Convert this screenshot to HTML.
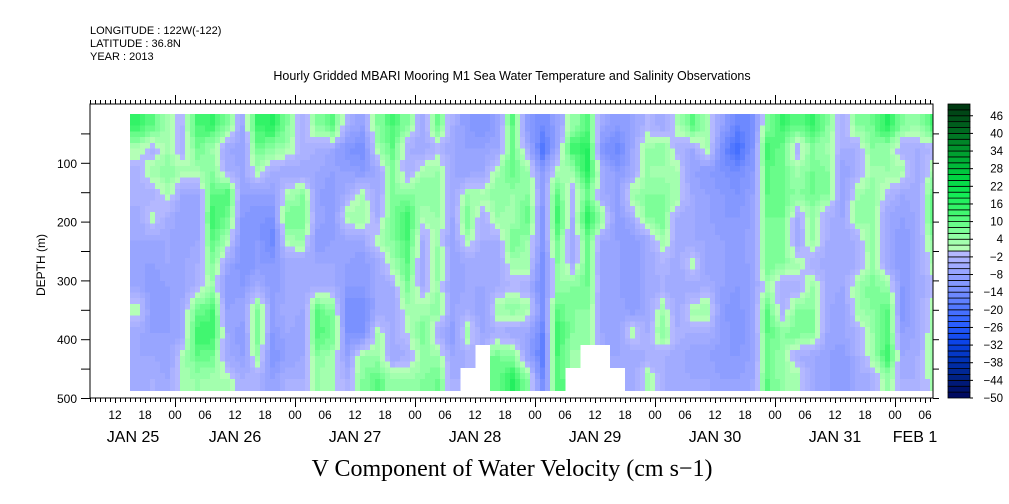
<!DOCTYPE html>
<html><head><meta charset="utf-8"><style>
html,body{margin:0;padding:0;background:#fff;}
svg{display:block;font-family:"Liberation Sans",sans-serif;}
</style></head><body>
<svg id="chart" width="1009" height="504" viewBox="0 0 1009 504" xmlns="http://www.w3.org/2000/svg">
<g font-size="11" fill="#000">
<text x="90" y="34">LONGITUDE : 122W(-122)</text>
<text x="90" y="47">LATITUDE : 36.8N</text>
<text x="90" y="60">YEAR : 2013</text>
</g>
<text x="512" y="80" font-size="12.5" text-anchor="middle">Hourly Gridded MBARI Mooring M1 Sea Water Temperature and Salinity Observations</text>
<g id="cells" shape-rendering="crispEdges"></g>
<g id="axes"></g>
<g id="cbar"></g>
<text x="512" y="476" font-family="Liberation Serif, serif" font-size="24" text-anchor="middle">V Component of Water Velocity (cm s−1)</text>
<text transform="translate(45,265) rotate(-90)" font-size="12" text-anchor="middle">DEPTH (m)</text>
</svg>
<script>
// time in hours since Jan 25 00:00 for each column start (3-hourly)
const colStartHours = Array.from({length:54},(_,i)=>15+3*i);
// depth row boundaries (m)
const depthEdges = [17,56.2,95.3,134.5,173.7,212.8,252,291.2,330.3,369.5,408.7,447.8,487];
// V velocity (cm/s), one array per column, rows top->bottom; null = missing
const values = [
[14,2,-3,-2,-6,-6,-8,-6,3,-6,-6,-5],
[10,-3,3,-4,2,-6,-8,-10,-10,-8,-6,-4],
[3,3,6,2,-4,-6,-6,-8,-10,-8,-8,-6],
[-2,-4,3,-6,-8,-8,-6,-8,-4,-6,2,3],
[12,8,3,-6,-8,-6,-4,-2,8,14,10,4],
[14,3,6,10,14,10,6,3,12,14,8,3],
[6,-6,-4,12,8,3,-6,-10,-8,-6,-6,2],
[-6,-8,-6,-8,-10,-12,-12,-10,-6,-10,-8,-4],
[14,8,2,-8,-12,-10,-10,-4,6,8,4,-4],
[16,6,-4,-8,-12,-16,-10,-10,-8,-10,-12,-8],
[6,3,-6,2,8,3,-6,-6,-4,-6,-8,-4],
[-4,-2,-6,6,8,4,-6,-6,-6,-8,-6,-4],
[6,-4,-6,-8,-6,-10,-6,-4,10,12,6,4],
[10,-6,-8,-10,-10,-8,-6,-4,6,8,3,2],
[-4,-12,-8,-4,3,-6,-8,-10,-14,-12,-8,-4],
[-8,-14,-10,2,4,-6,-10,-10,-14,-14,4,6],
[6,3,-6,-6,-4,2,-6,-6,-6,2,4,10],
[12,10,6,6,8,6,3,-4,-6,-4,-6,4],
[6,-4,-4,6,14,12,10,7,3,0,-4,4],
[-6,-6,3,6,2,-4,-6,-4,3,8,4,6],
[8,-2,4,6,4,3,6,3,6,-4,4,8],
[-4,-6,-6,-6,-6,-8,-8,-8,-6,-10,-6,-4],
[-10,-8,-8,4,8,3,-6,-6,-4,3,-4,null],
[-12,-8,-6,3,-4,-4,-6,-6,-8,-6,null,null],
[-8,-6,3,6,4,-4,-6,-4,3,-4,8,8],
[10,8,10,4,3,8,3,-2,6,-6,6,16],
[-10,-4,4,6,10,4,3,-4,3,-6,-8,6],
[-14,-20,-10,-8,-12,-10,-14,-14,-12,-16,-18,-14],
[-8,-6,3,10,14,8,6,4,10,14,12,10],
[4,14,3,-4,-4,-6,-4,6,6,6,3,null],
[10,16,16,8,16,8,8,8,6,4,null,null],
[-6,-12,-4,-6,4,-6,-8,-6,-8,-6,null,null],
[-10,-16,-10,-8,-10,-8,-8,-8,-6,-8,-6,null],
[-8,-6,-6,4,-4,-10,-10,-10,-10,3,-6,-6],
[-2,4,4,6,6,-6,-6,-6,-6,-4,-4,3],
[-6,6,3,6,8,3,-2,-4,3,6,-4,-4],
[2,-3,2,3,-5,-4,-6,-6,-6,-3,-5,-5],
[10,-6,-8,-6,-6,-6,3,-6,3,-4,-8,-6],
[3,3,-10,-8,-8,-6,-8,-4,3,-4,-8,-6],
[-8,-14,-12,-10,-10,-8,-8,-8,-10,-8,-10,-8],
[-16,-22,-14,-12,-10,-10,-8,-10,-12,-12,-10,-8],
[-14,-12,-10,-8,-8,-6,-8,-8,-6,-8,-8,-6],
[6,14,10,10,8,6,8,3,10,10,8,10],
[14,8,8,8,8,6,6,-4,-4,6,4,4],
[10,-4,3,6,-4,-6,3,-4,6,8,-4,3],
[14,6,8,8,4,4,-4,4,6,6,-6,-6],
[6,3,6,6,-4,-4,-6,-4,-6,-6,-8,-8],
[-4,-4,-8,-8,-6,-6,-6,-6,-8,-6,-10,-10],
[6,-4,-4,3,6,-4,-4,4,3,-4,-4,-6],
[8,6,3,6,4,6,4,8,6,4,3,-4],
[16,4,4,-2,-6,-6,-6,4,10,10,14,4],
[6,-4,3,-6,-8,-10,-10,-10,-12,-8,-6,-4],
[4,-4,-6,-4,-6,-6,-6,-6,-6,-6,-4,-4],
[12,-2,2,8,10,4,2,-2,2,3,3,2]
];
const hourTickLabels = ["12","18","00","06","12","18","00","06","12","18","00","06","12","18","00","06","12","18","00","06","12","18","00","06","12","18","00","06"];
const dayLabels = ["JAN 25","JAN 26","JAN 27","JAN 28","JAN 29","JAN 30","JAN 31","FEB 1"];
const depthTicks = [100,200,300,400,500];
const cbarTickLabels = [-50,-44,-38,-32,-26,-20,-14,-8,-2,4,10,16,22,28,34,40,46];

const NS="http://www.w3.org/2000/svg";
const X0=90,X1=933,Y0=104,Y1=398;
const T0=7;
const xOf=h=>X0+(h-T0)*5;
const yOf=d=>Y0+d*(Y1-Y0)/500;
function mk(tag,attrs,parent){const e=document.createElementNS(NS,tag);for(const k in attrs)e.setAttribute(k,attrs[k]);parent.appendChild(e);return e;}
function lerp(a,b,t){return a.map((v,i)=>Math.round(v+(b[i]-v)*t));}
function ramp(stops,t){if(t<=stops[0][0])return stops[0][1];for(let i=0;i<stops.length-1;i++){if(t<=stops[i+1][0]){const u=(t-stops[i][0])/(stops[i+1][0]-stops[i][0]);return lerp(stops[i][1],stops[i+1][1],u);}}return stops[stops.length-1][1];}
const posStops=[[1,[180,255,182]],[5,[145,255,165]],[9,[105,252,138]],[13,[65,246,112]],[19,[20,236,86]],[25,[0,212,66]],[33,[0,160,48]],[41,[0,105,32]],[49,[0,58,18]]];
const negStops=[[1,[180,184,255]],[7,[152,165,255]],[13,[122,145,255]],[19,[82,120,255]],[25,[42,94,255]],[31,[12,68,232]],[37,[0,50,182]],[43,[0,33,132]],[49,[0,10,96]]];
function colorFor(v){const b=Math.floor(v/2)*2+1; const c=b>0?ramp(posStops,Math.min(b,49)):ramp(negStops,Math.min(-b,49));return `rgb(${c[0]},${c[1]},${c[2]})`;}

// value lookup with bilinear smoothing between cell centres (rendering only)
const NC=values.length, NR=depthEdges.length-1;
function cellVal(i,r){i=Math.max(0,Math.min(NC-1,i));r=Math.max(0,Math.min(NR-1,r));return values[i][r];}
function sample(fi,fr,own){
  const i0=Math.floor(fi), r0=Math.floor(fr), ti=fi-i0, tr=fr-r0;
  const pts=[[i0,r0,(1-ti)*(1-tr)],[i0+1,r0,ti*(1-tr)],[i0,r0+1,(1-ti)*tr],[i0+1,r0+1,ti*tr]];
  let s=0,w=0;
  pts.forEach(p=>{const v=cellVal(p[0],p[1]); if(v!==null){s+=v*p[2];w+=p[2];}});
  return w>0?s/w:own;
}

const cg=document.getElementById('cells');
const SX=3, SY=4;
values.forEach((col,i)=>{
  const xa=xOf(colStartHours[i]), xw=15;
  col.forEach((v,r)=>{
    if(v===null) return;
    const ya=yOf(depthEdges[r]), yh=yOf(depthEdges[r+1])-ya;
    for(let a=0;a<SX;a++){
      for(let b=0;b<SY;b++){
        const fi=i+(a+0.5)/SX-0.5, fr=r+(b+0.5)/SY-0.5;
        const sv=sample(fi,fr,v);
        let x=xa+a*xw/SX, x2=x+xw/SX;
        if(x>=X1) continue; x2=Math.min(x2,X1);
        const y=ya+b*yh/SY;
        const el=mk('rect',{x:x.toFixed(2),y:y.toFixed(2),width:(x2-x+0.5).toFixed(2),height:(yh/SY+0.5).toFixed(2),fill:colorFor(sv)},cg);
        
        
      }
    }
  });
});

// axes
const ag=document.getElementById('axes');
const frame=mk('rect',{x:X0,y:Y0,width:X1-X0,height:Y1-Y0,fill:'none',stroke:'#000','stroke-width':1},ag);


for(let h=T0;h<=T0+168;h++){
  const x=xOf(h)+0.5; if(x>X1+0.5)break;
  const major=(h%24===0), mid=(h%6===0);
  const len=major?9:(mid?5:4);
  mk('line',{x1:x,y1:Y0,x2:x,y2:Y0-len,stroke:'#000'},ag);
  mk('line',{x1:x,y1:Y1,x2:x,y2:Y1+len,stroke:'#000'},ag);
}
hourTickLabels.forEach((lab,i)=>{
  const h=12+6*i;
  const t=mk('text',{x:xOf(h),y:419,'font-size':12,'text-anchor':'middle'},ag);
  t.textContent=lab;
  
  
});
dayLabels.forEach((lab,i)=>{
  let x=xOf(12+24*i); if(i===0)x=133; if(i===7)x=915;
  const t=mk('text',{x:x,y:442,'font-size':16,'text-anchor':'middle'},ag);
  t.textContent=lab;
  
  
});
for(let d=50;d<=500;d+=50){
  const y=yOf(d)+0.5;
  mk('line',{x1:X0,y1:y,x2:X0-9,y2:y,stroke:'#000'},ag);
  mk('line',{x1:X1,y1:y,x2:X1+6,y2:y,stroke:'#000'},ag);
}
depthTicks.forEach(d=>{
  const t=mk('text',{x:77,y:yOf(d)+5,'font-size':12,'text-anchor':'end'},ag);
  t.textContent=d;
  
  
});

// colorbar
const bg=document.getElementById('cbar');
const CX=948,CW=22,nb=50,bh=(Y1-Y0)/nb;
for(let k=0;k<nb;k++){
  const v=-50+2*k;
  const r=mk('rect',{x:CX,y:Y1-(k+1)*bh,width:CW,height:bh,fill:colorFor(v),stroke:'#000','stroke-width':0.8},bg);
  
  
}
cbarTickLabels.forEach(v=>{
  const y=Y1-(v+50)/2*bh;
  mk('line',{x1:CX+CW,y1:y,x2:CX+CW+3,y2:y,stroke:'#000'},bg);
  const t=mk('text',{x:1003,y:y+4,'font-size':11.5,'text-anchor':'end'},bg);
  t.textContent=v<0?('−'+(-v)):String(v);
  
  
});
</script>
</body></html>
